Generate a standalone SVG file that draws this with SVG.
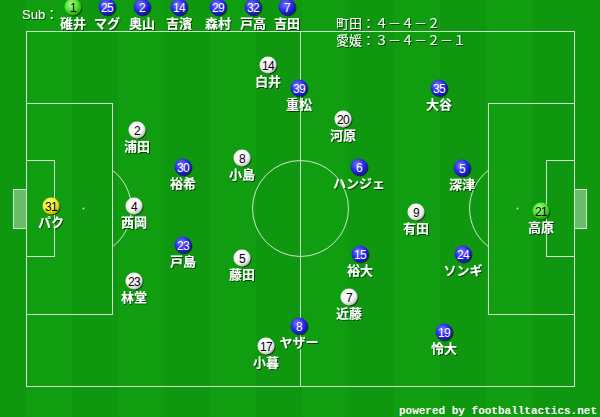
<svg xmlns="http://www.w3.org/2000/svg" width="600" height="417" viewBox="0 0 600 417">
<defs>
<radialGradient id="gBlue" cx="0.4" cy="0.35" r="0.65"><stop offset="0" stop-color="#7a7aff"/><stop offset="0.6" stop-color="#2a2ae6"/><stop offset="1" stop-color="#1212b0"/></radialGradient>
<radialGradient id="gWhite" cx="0.4" cy="0.35" r="0.65"><stop offset="0" stop-color="#ffffff"/><stop offset="0.7" stop-color="#f4f4f4"/><stop offset="1" stop-color="#bdbdbd"/></radialGradient>
<radialGradient id="gYellow" cx="0.4" cy="0.35" r="0.65"><stop offset="0" stop-color="#ffff90"/><stop offset="0.6" stop-color="#f4f020"/><stop offset="1" stop-color="#b8b000"/></radialGradient>
<radialGradient id="gGreen" cx="0.4" cy="0.35" r="0.65"><stop offset="0" stop-color="#b0ff90"/><stop offset="0.6" stop-color="#50e030"/><stop offset="1" stop-color="#20a010"/></radialGradient>
<filter id="sh" x="-30%" y="-30%" width="160%" height="160%"><feDropShadow dx="1" dy="1" stdDeviation="0.6" flood-color="#000" flood-opacity="0.6"/></filter>
</defs>
<style>
.ln{fill:none;stroke:#cfe6cf;stroke-width:1}
.gl{fill:#b8dcb8;fill-opacity:0.55;stroke:#cfe6cf;stroke-width:1}
.b{fill:url(#gBlue)}
.w{fill:url(#gWhite)}
.y{fill:url(#gYellow)}
.g{fill:url(#gGreen)}
.c{filter:url(#sh)}
.n{font-family:"Liberation Sans Narrow","Liberation Sans",sans-serif;font-size:12px;text-anchor:middle;letter-spacing:-0.6px}
.nw{fill:#ffffff}
.nk{fill:#000000}
.nm{font-family:"Noto Sans CJK JP","Noto Sans",sans-serif;font-size:13px;font-weight:bold;fill:#ffffff;text-anchor:middle;filter:url(#sh)}
.hd{font-family:"Liberation Sans","Noto Sans CJK JP",sans-serif;font-size:13px;fill:#ffffff;filter:url(#sh)}
.pw{font-family:"Liberation Mono","DejaVu Sans Mono",monospace;font-size:11px;font-weight:bold;fill:#ffffff;text-anchor:end}
</style>
<rect x="0" y="0" width="600" height="417" fill="#0f980f"/>
<g fill="#12a212" opacity="0.6">
<rect x="26" y="0" width="46" height="417"/><rect x="118" y="0" width="46" height="417"/><rect x="210" y="0" width="46" height="417"/><rect x="302" y="0" width="46" height="417"/><rect x="394" y="0" width="46" height="417"/><rect x="486" y="0" width="46" height="417"/>
</g>
<g id="pitch">
<rect class="ln" x="26.5" y="31.5" width="548" height="355"/>
<line class="ln" x1="300.5" y1="31.5" x2="300.5" y2="386.5"/>
<circle class="ln" cx="300.5" cy="208.5" r="48"/>
<rect class="ln" x="26.5" y="103.5" width="86" height="211"/>
<rect class="ln" x="26.5" y="160.5" width="28" height="96"/>
<rect class="gl" x="13.5" y="189.5" width="13" height="39"/>
<path class="ln" d="M112.5 170.3 A48 48 0 0 1 112.5 246.7"/>
<circle cx="83.5" cy="208.5" r="1" fill="#cfe6cf"/>
<rect class="ln" x="488.5" y="103.5" width="86" height="211"/>
<rect class="ln" x="546.5" y="160.5" width="28" height="96"/>
<rect class="gl" x="574.5" y="189.5" width="12" height="39"/>
<path class="ln" d="M488.5 170.3 A48 48 0 0 0 488.5 246.7"/>
<circle cx="517.5" cy="208.5" r="1" fill="#cfe6cf"/>
</g>
<g id="connectors"/>
<g id="header">
<text class="hd" x="22" y="19">Sub：</text>
<text class="hd" x="336" y="28">町田：４－４－２</text>
<text class="hd" x="336" y="45">愛媛：３－４－２－１</text>
</g>
<g id="sub1"><circle class="c g" cx="73" cy="7" r="8.5"/><text class="n nk" x="73" y="11.5">1</text><text class="nm" x="73" y="28">碓井</text></g>
<g id="sub2"><circle class="c b" cx="107" cy="7" r="8.5"/><text class="n nw" x="107" y="11.5">25</text><text class="nm" x="107" y="28">マグ</text></g>
<g id="sub3"><circle class="c b" cx="142" cy="7" r="8.5"/><text class="n nw" x="142" y="11.5">2</text><text class="nm" x="142" y="28">奥山</text></g>
<g id="sub4"><circle class="c b" cx="179" cy="7" r="8.5"/><text class="n nw" x="179" y="11.5">14</text><text class="nm" x="179" y="28">吉濱</text></g>
<g id="sub5"><circle class="c b" cx="218" cy="7" r="8.5"/><text class="n nw" x="218" y="11.5">29</text><text class="nm" x="218" y="28">森村</text></g>
<g id="sub6"><circle class="c b" cx="253" cy="7" r="8.5"/><text class="n nw" x="253" y="11.5">32</text><text class="nm" x="253" y="28">戸高</text></g>
<g id="sub7"><circle class="c b" cx="287" cy="7" r="8.5"/><text class="n nw" x="287" y="11.5">7</text><text class="nm" x="287" y="28">吉田</text></g>

<g id="p-paku"><circle class="c y" cx="51" cy="206" r="8.5"/><text class="n nk" x="51" y="210.5">31</text><text class="nm" x="51" y="227">パク</text></g>
<g id="p-urata"><circle class="c w" cx="137" cy="130" r="8.5"/><text class="n nk" x="137" y="134.5">2</text><text class="nm" x="137" y="151">浦田</text></g>
<g id="p-nishioka"><circle class="c w" cx="134" cy="206" r="8.5"/><text class="n nk" x="134" y="210.5">4</text><text class="nm" x="134" y="227">西岡</text></g>
<g id="p-rindo"><circle class="c w" cx="134" cy="281" r="8.5"/><text class="n nk" x="134" y="285.5">23</text><text class="nm" x="134" y="302">林堂</text></g>
<g id="p-kojima"><circle class="c w" cx="242" cy="158" r="8.5"/><text class="n nk" x="242" y="162.5">8</text><text class="nm" x="242" y="179">小島</text></g>
<g id="p-fujita"><circle class="c w" cx="242" cy="258" r="8.5"/><text class="n nk" x="242" y="262.5">5</text><text class="nm" x="242" y="279">藤田</text></g>
<g id="p-shirai"><circle class="c w" cx="268" cy="65" r="8.5"/><text class="n nk" x="268" y="69.5">14</text><text class="nm" x="268" y="86">白井</text></g>
<g id="p-kogure"><circle class="c w" cx="266" cy="346" r="8.5"/><text class="n nk" x="266" y="350.5">17</text><text class="nm" x="266" y="367">小暮</text></g>
<g id="p-kawahara"><circle class="c w" cx="343" cy="119" r="8.5"/><text class="n nk" x="343" y="123.5">20</text><text class="nm" x="343" y="140">河原</text></g>
<g id="p-arita"><circle class="c w" cx="416" cy="212" r="8.5"/><text class="n nk" x="416" y="216.5">9</text><text class="nm" x="416" y="233">有田</text></g>
<g id="p-kondo"><circle class="c w" cx="349" cy="297" r="8.5"/><text class="n nk" x="349" y="301.5">7</text><text class="nm" x="349" y="318">近藤</text></g>

<g id="p-takahara"><circle class="c g" cx="541" cy="211" r="8.5"/><text class="n nk" x="541" y="215.5">21</text><text class="nm" x="541" y="232">高原</text></g>
<g id="p-yuki"><circle class="c b" cx="183" cy="167" r="8.5"/><text class="n nw" x="183" y="171.5">30</text><text class="nm" x="183" y="188">裕希</text></g>
<g id="p-tojima"><circle class="c b" cx="183" cy="245" r="8.5"/><text class="n nw" x="183" y="249.5">23</text><text class="nm" x="183" y="266">戸島</text></g>
<g id="p-shigematsu"><circle class="c b" cx="299" cy="88" r="8.5"/><text class="n nw" x="299" y="92.5">39</text><text class="nm" x="299" y="109">重松</text></g>
<g id="p-otani"><circle class="c b" cx="439" cy="88" r="8.5"/><text class="n nw" x="439" y="92.5">35</text><text class="nm" x="439" y="109">大谷</text></g>
<g id="p-hanje"><circle class="c b" cx="359" cy="167" r="8.5"/><text class="n nw" x="359" y="171.5">6</text><text class="nm" x="359" y="188">ハンジェ</text></g>
<g id="p-fukatsu"><circle class="c b" cx="462" cy="168" r="8.5"/><text class="n nw" x="462" y="172.5">5</text><text class="nm" x="462" y="189">深津</text></g>
<g id="p-yudai"><circle class="c b" cx="360" cy="254" r="8.5"/><text class="n nw" x="360" y="258.5">15</text><text class="nm" x="360" y="275">裕大</text></g>
<g id="p-songi"><circle class="c b" cx="463" cy="254" r="8.5"/><text class="n nw" x="463" y="258.5">24</text><text class="nm" x="463" y="275">ソンギ</text></g>
<g id="p-yazer"><circle class="c b" cx="299" cy="326" r="8.5"/><text class="n nw" x="299" y="330.5">8</text><text class="nm" x="299" y="347">ヤザー</text></g>
<g id="p-reita"><circle class="c b" cx="444" cy="332" r="8.5"/><text class="n nw" x="444" y="336.5">19</text><text class="nm" x="444" y="353">怜大</text></g>

<text class="pw" x="597" y="414">powered by footballtactics.net</text>
</svg>
